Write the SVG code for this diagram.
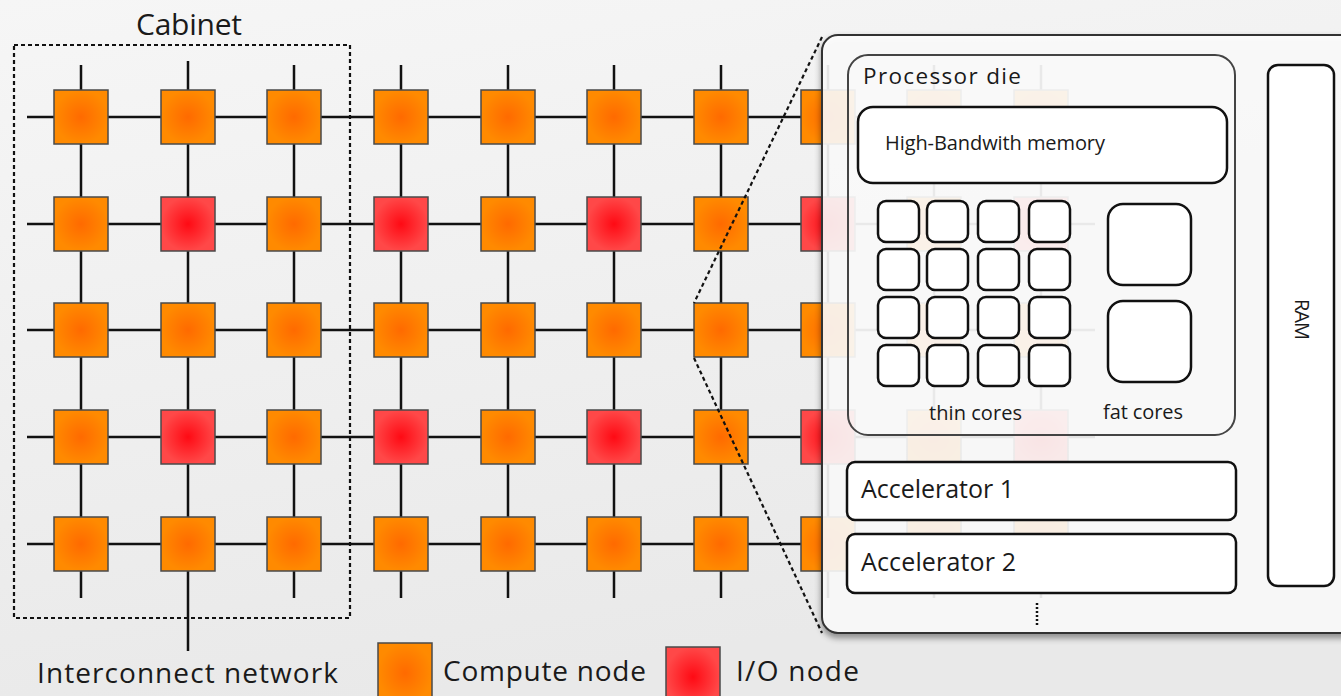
<svg xmlns="http://www.w3.org/2000/svg" width="1341" height="696" viewBox="0 0 1341 696">
<style>
.t{font-family:"Open Sans","DejaVu Sans",sans-serif;fill:#1a1a1a}
.c{fill:url(#gc);stroke:#4a4a4a;stroke-width:1.5}
.io{fill:url(#gr);stroke:#4a4a4a;stroke-width:1.5}
.ln{stroke:#111;stroke-width:2.5;fill:none}
.dash{stroke:#111;stroke-width:2.2;stroke-dasharray:4 3;fill:none}
.box{fill:#fff;stroke:#111;stroke-width:2.5}
</style>
<defs>
<linearGradient id="bg" x1="0" y1="0" x2="0.3" y2="1">
<stop offset="0" stop-color="#f6f6f6"/><stop offset="1" stop-color="#e9e9e9"/>
</linearGradient>
<radialGradient id="gc"><stop offset="0" stop-color="#ff6a00"/><stop offset="1" stop-color="#ff8a00"/></radialGradient>
<radialGradient id="gr"><stop offset="0" stop-color="#ff0a14"/><stop offset="1" stop-color="#ff4848"/></radialGradient>
<filter id="sh" x="-10%" y="-10%" width="130%" height="130%">
<feDropShadow dx="0" dy="4" stdDeviation="3" flood-color="#000" flood-opacity="0.45"/>
</filter>
</defs>
<rect width="1341" height="696" fill="url(#bg)"/>
<g id="connectors">
<path class="ln" d="M27 117H1095M27 224H1095M27 330H1095M27 437H1095M27 544H1095"/>
<path class="ln" d="M81 65V598M188 61V651M294 65V598M401 65V598M508 65V598M614 65V598M721 65V598M828 65V598M934 65V598M1041 65V598"/>
</g>
<g id="cabinet">
<rect x="14" y="45" width="336" height="573" class="dash" fill="none"/>
<text class="t" x="136" y="35" font-size="30" textLength="106" lengthAdjust="spacing">Cabinet</text>
</g>
<g id="nodes">
<g id="r1"><rect class="c" x="54" y="90" width="54" height="54"/><rect class="c" x="161" y="90" width="54" height="54"/><rect class="c" x="267" y="90" width="54" height="54"/><rect class="c" x="374" y="90" width="54" height="54"/><rect class="c" x="481" y="90" width="54" height="54"/><rect class="c" x="587" y="90" width="54" height="54"/><rect class="c" x="694" y="90" width="54" height="54"/><rect class="c" x="801" y="90" width="54" height="54"/><rect class="c" x="907" y="90" width="54" height="54"/><rect class="c" x="1014" y="90" width="54" height="54"/></g>
<g id="r2"><rect class="c" x="54" y="197" width="54" height="54"/><rect class="io" x="161" y="197" width="54" height="54"/><rect class="c" x="267" y="197" width="54" height="54"/><rect class="io" x="374" y="197" width="54" height="54"/><rect class="c" x="481" y="197" width="54" height="54"/><rect class="io" x="587" y="197" width="54" height="54"/><rect class="c" x="694" y="197" width="54" height="54"/><rect class="io" x="801" y="197" width="54" height="54"/><rect class="c" x="907" y="197" width="54" height="54"/><rect class="io" x="1014" y="197" width="54" height="54"/></g>
<g id="r3"><rect class="c" x="54" y="303" width="54" height="54"/><rect class="c" x="161" y="303" width="54" height="54"/><rect class="c" x="267" y="303" width="54" height="54"/><rect class="c" x="374" y="303" width="54" height="54"/><rect class="c" x="481" y="303" width="54" height="54"/><rect class="c" x="587" y="303" width="54" height="54"/><rect class="c" x="694" y="303" width="54" height="54"/><rect class="c" x="801" y="303" width="54" height="54"/><rect class="c" x="907" y="303" width="54" height="54"/><rect class="c" x="1014" y="303" width="54" height="54"/></g>
<g id="r4"><rect class="c" x="54" y="410" width="54" height="54"/><rect class="io" x="161" y="410" width="54" height="54"/><rect class="c" x="267" y="410" width="54" height="54"/><rect class="io" x="374" y="410" width="54" height="54"/><rect class="c" x="481" y="410" width="54" height="54"/><rect class="io" x="587" y="410" width="54" height="54"/><rect class="c" x="694" y="410" width="54" height="54"/><rect class="io" x="801" y="410" width="54" height="54"/><rect class="c" x="907" y="410" width="54" height="54"/><rect class="io" x="1014" y="410" width="54" height="54"/></g>
<g id="r5"><rect class="c" x="54" y="517" width="54" height="54"/><rect class="c" x="161" y="517" width="54" height="54"/><rect class="c" x="267" y="517" width="54" height="54"/><rect class="c" x="374" y="517" width="54" height="54"/><rect class="c" x="481" y="517" width="54" height="54"/><rect class="c" x="587" y="517" width="54" height="54"/><rect class="c" x="694" y="517" width="54" height="54"/><rect class="c" x="801" y="517" width="54" height="54"/><rect class="c" x="907" y="517" width="54" height="54"/><rect class="c" x="1014" y="517" width="54" height="54"/></g>
</g>
<g id="zoomlines">
<path class="dash" d="M822 37L694 303M694 358L822 633"/>
</g>
<g id="panel">
<rect x="822" y="35" width="540" height="598" rx="16" fill="#fff" fill-opacity="0.86" stroke="#333" stroke-width="2" filter="url(#sh)"/>
</g>
<g id="processor-die">
<rect x="848" y="55" width="387" height="380" rx="20" fill="#fff" fill-opacity="0.2" stroke="#444" stroke-width="2"/>
<text class="t" x="863" y="84" font-size="22.5" textLength="158" lengthAdjust="spacing">Processor die</text>
</g>
<g id="hbm">
<rect class="box" x="858" y="107" width="369" height="76" rx="15"/>
<text class="t" x="885" y="150" font-size="20" textLength="220" lengthAdjust="spacing">High-Bandwith memory</text>
</g>
<g id="thin-cores">
<rect class="box" x="878" y="201" width="41" height="41" rx="8"/><rect class="box" x="927" y="201" width="41" height="41" rx="8"/><rect class="box" x="978" y="201" width="41" height="41" rx="8"/><rect class="box" x="1029" y="201" width="41" height="41" rx="8"/>
<rect class="box" x="878" y="249" width="41" height="41" rx="8"/><rect class="box" x="927" y="249" width="41" height="41" rx="8"/><rect class="box" x="978" y="249" width="41" height="41" rx="8"/><rect class="box" x="1029" y="249" width="41" height="41" rx="8"/>
<rect class="box" x="878" y="297" width="41" height="41" rx="8"/><rect class="box" x="927" y="297" width="41" height="41" rx="8"/><rect class="box" x="978" y="297" width="41" height="41" rx="8"/><rect class="box" x="1029" y="297" width="41" height="41" rx="8"/>
<rect class="box" x="878" y="345" width="41" height="41" rx="8"/><rect class="box" x="927" y="345" width="41" height="41" rx="8"/><rect class="box" x="978" y="345" width="41" height="41" rx="8"/><rect class="box" x="1029" y="345" width="41" height="41" rx="8"/>
<text class="t" x="929" y="420" font-size="20" textLength="93" lengthAdjust="spacing" fill="#333">thin cores</text>
</g>
<g id="fat-cores">
<rect class="box" x="1108" y="204" width="83" height="81" rx="15"/>
<rect class="box" x="1108" y="301" width="83" height="81" rx="15"/>
<text class="t" x="1103" y="419" font-size="20" textLength="80" lengthAdjust="spacing">fat cores</text>
</g>
<g id="accelerator-1">
<rect class="box" x="847" y="462" width="389" height="58" rx="8"/>
<text class="t" x="861" y="498" font-size="25" textLength="153" lengthAdjust="spacing">Accelerator 1</text>
</g>
<g id="accelerator-2">
<rect class="box" x="847" y="534" width="389" height="59" rx="8"/>
<text class="t" x="861" y="571" font-size="25" textLength="155" lengthAdjust="spacing">Accelerator 2</text>
</g>
<g id="more">
<path d="M1037 603V626" stroke="#111" stroke-width="2.5" stroke-dasharray="2 2"/>
</g>
<g id="ram">
<rect class="box" x="1268" y="65" width="66" height="521" rx="10" stroke-width="2"/>
<text class="t" transform="translate(1295 319.5) rotate(90)" x="0" y="0" font-size="20" text-anchor="middle" textLength="41" lengthAdjust="spacing">RAM</text>
</g>
<g id="legend">
<text class="t" x="37" y="683" font-size="28" textLength="301" lengthAdjust="spacing">Interconnect network</text>
<rect class="c" x="378" y="643" width="54" height="60"/>
<text class="t" x="443" y="681" font-size="28" textLength="203" lengthAdjust="spacing">Compute node</text>
<rect class="io" x="666" y="647" width="54" height="60"/>
<text class="t" x="736" y="681" font-size="28" textLength="123" lengthAdjust="spacing">I/O node</text>
</g>
</svg>
